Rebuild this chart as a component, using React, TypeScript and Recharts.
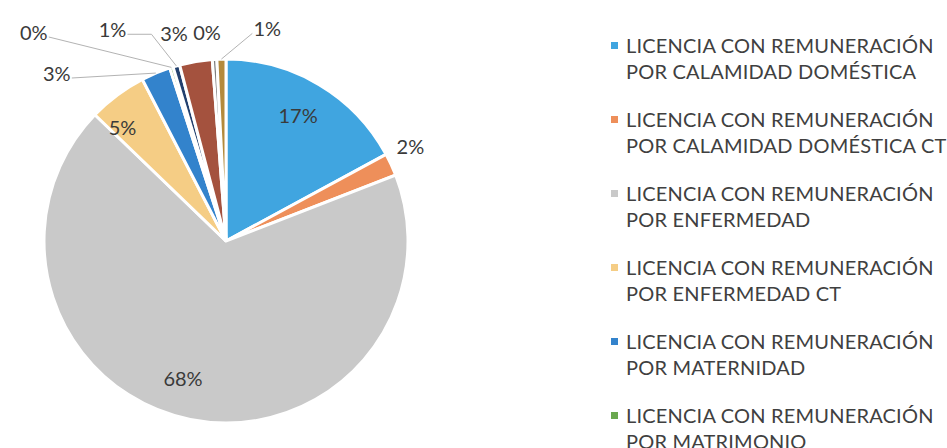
import { Cell, Legend, Pie, PieChart } from "recharts";

const categories = [
  "LICENCIA CON REMUNERACIÓN POR CALAMIDAD DOMÉSTICA",
  "LICENCIA CON REMUNERACIÓN POR CALAMIDAD DOMÉSTICA CT",
  "LICENCIA CON REMUNERACIÓN POR ENFERMEDAD",
  "LICENCIA CON REMUNERACIÓN POR ENFERMEDAD CT",
  "LICENCIA CON REMUNERACIÓN POR MATERNIDAD",
  "LICENCIA CON REMUNERACIÓN POR MATRIMONIO",
  "LICENCIA CON REMUNERACIÓN POR PATERNIDAD",
  "LICENCIA NO REMUNERADA",
  "LICENCIA POR LUTO",
  "PERMISO SINDICAL",
];

// share of each licence type (%)
const shares = [17.1, 2.0, 68.1, 5.2, 2.6, 0.3, 0.6, 2.9, 0.4, 0.8];

const COLORS = [
  "#40a5e0",
  "#ee8f5a",
  "#c9c9c9",
  "#f5cd85",
  "#3383cc",
  "#6aa84f",
  "#22406e",
  "#a4523e",
  "#7f7f7f",
  "#b48a3c",
];

// where each percentage label sits: angle (deg) and radius as a fraction of the pie radius
const LABEL_LAYOUT: { angle: number; r: number; line?: number; elbow?: number }[] = [
  { angle: 60.3, r: 0.8 },
  { angle: 27.3, r: 1.14 },
  { angle: 252.6, r: 0.79 },
  { angle: 132.3, r: 0.845 },
  { angle: 135.2, r: 1.31, line: 1 },
  { angle: 132.6, r: 1.56, line: 1 },
  { angle: 118.2, r: 1.32, line: 1, elbow: 24 },
  { angle: 104, r: 1.18 },
  { angle: 95.2, r: 1.155 },
  { angle: 79, r: 1.19, line: -1 },
];

const data = categories.map((name, i) => ({ name, value: shares[i] }));

const RADIAN = Math.PI / 180;
const FONT = "Lato, 'Open Sans', sans-serif";

function polar(cx: number, cy: number, r: number, angle: number) {
  return { x: cx + r * Math.cos(-angle * RADIAN), y: cy + r * Math.sin(-angle * RADIAN) };
}

function renderLabel(props: any) {
  const { cx, cy, midAngle, outerRadius, percent, index } = props;
  const layout = LABEL_LAYOUT[index];
  const p = polar(cx, cy, outerRadius * layout.r, layout.angle);
  let line = null;
  if (layout.line) {
    const edge = polar(cx, cy, outerRadius, midAngle);
    const sx = p.x + layout.line * 15;
    const sy = p.y + 5;
    const pts: number[][] = [[sx, sy]];
    if (layout.elbow) pts.push([sx + layout.line * layout.elbow, sy]);
    pts.push([edge.x, edge.y]);
    line = (
      <polyline
        points={pts.map((q) => q.join(",")).join(" ")}
        fill="none"
        stroke="#b3b3b3"
        strokeWidth={1}
      />
    );
  }
  return (
    <g key={`label-${index}`}>
      {line}
      <text
        x={p.x}
        y={p.y}
        textAnchor="middle"
        dominantBaseline="central"
        fill="#3a3a3a"
        fontSize={20}
        fontFamily={FONT}
      >
        {`${Math.round(percent * 100)}%`}
      </text>
    </g>
  );
}

function LegendList({ payload }: any) {
  return (
    <div
      style={{
        fontFamily: FONT,
        fontSize: 20,
        letterSpacing: 0.2,
        color: "#404040",
        lineHeight: "26px",
      }}
    >
      {(payload || []).map((entry: any, i: number) => {
        const name: string = entry.value;
        const cut = name.indexOf(" POR ");
        const first = cut > 0 ? name.slice(0, cut) : name;
        const second = cut > 0 ? name.slice(cut + 1) : "";
        return (
          <div
            key={`leg-${i}`}
            style={{ position: "relative", paddingLeft: 15, marginBottom: 22, whiteSpace: "nowrap" }}
          >
            <span
              style={{
                position: "absolute",
                left: 0,
                top: 10,
                width: 7,
                height: 7,
                background: entry.color,
              }}
            />
            <div>{first}</div>
            <div>{second}</div>
          </div>
        );
      })}
    </div>
  );
}

export default function App() {
  return (
    <div
      style={{
        position: "fixed",
        left: 0,
        top: 0,
        width: 947,
        height: 448,
        overflow: "hidden",
        background: "#fff",
      }}
    >
      <PieChart width={947} height={448} margin={{ top: 0, right: 0, bottom: 0, left: 0 }}>
        <Pie
          data={data}
          dataKey="value"
          nameKey="name"
          cx={226}
          cy={241}
          outerRadius={182}
          startAngle={90}
          endAngle={-270}
          stroke="#ffffff"
          strokeWidth={3}
          label={renderLabel}
          labelLine={false}
          isAnimationActive={false}
        >
          {data.map((entry, index) => (
            <Cell key={`cell-${index}`} fill={COLORS[index % COLORS.length]} />
          ))}
        </Pie>
        <Legend
          layout="vertical"
          content={<LegendList />}
          wrapperStyle={{ left: 611, top: 32, width: 336 }}
        />
      </PieChart>
    </div>
  );
}
